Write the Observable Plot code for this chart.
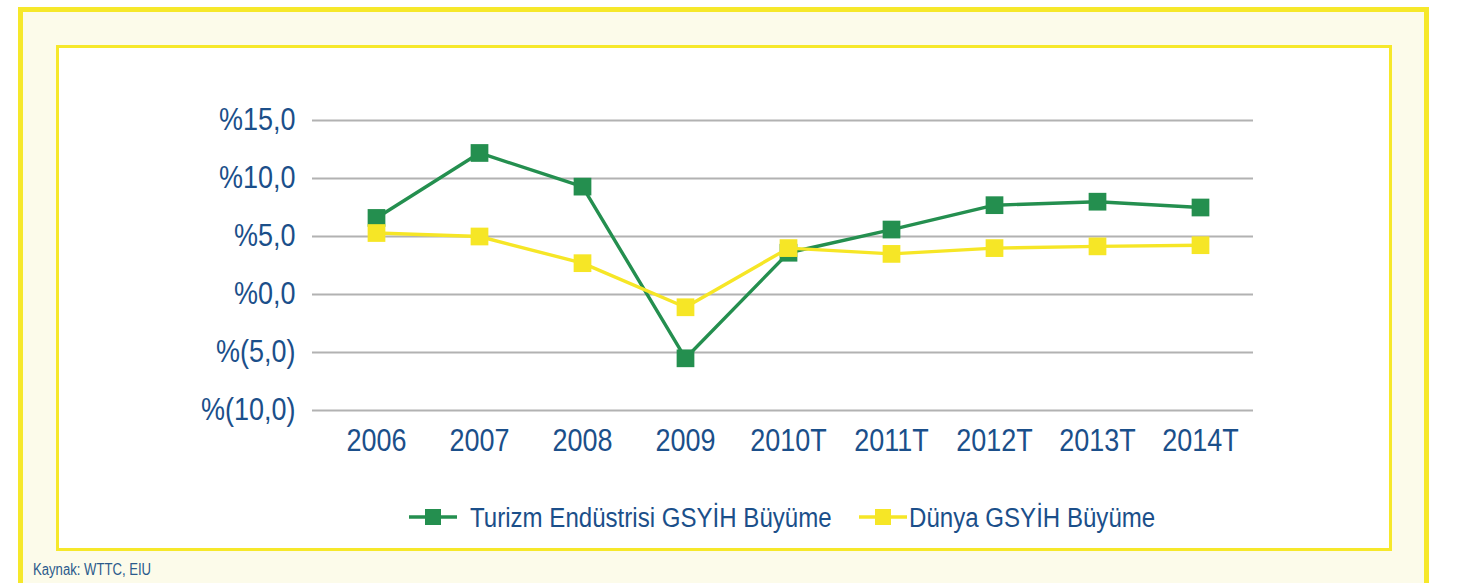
<!DOCTYPE html>
<html>
<head>
<meta charset="utf-8">
<script src="https://cdn.jsdelivr.net/npm/d3@7"></script>
<script src="https://cdn.jsdelivr.net/npm/@observablehq/plot@0.6"></script>
<style>
  html, body { margin: 0; padding: 0; width: 1465px; height: 583px; overflow: hidden; background: #ffffff; }
  .frame-outer { position: absolute; left: 18px; top: 7px; width: 1401px; height: 640px; background: #fcfbea; border: 5px solid #f6e82a; }
  .frame-inner { position: absolute; left: 56px; top: 45px; width: 1330px; height: 500px; background: #ffffff; border: 3px solid #f6e82a; }
  #chart { position: absolute; left: 0; top: 0; }
  .font { font-family: "Liberation Sans", Arial, sans-serif; color: #1b4f8a; }
  #legend { position: absolute; left: 0; top: 499px; width: 1465px; height: 36px; }
  #caption { position: absolute; left: 33px; top: 562px; font-size: 16px; line-height: 16px; color: #2b5a8c; transform: scaleX(0.82); transform-origin: 0 0; white-space: nowrap; }
</style>
</head>
<body>
<div class="frame-outer"></div>
<div class="frame-inner"></div>
<div id="chart" class="font"></div>
<div id="legend" class="font"></div>
<div id="caption" class="font">Kaynak: WTTC, EIU</div>
<script>
const years = ["2006", "2007", "2008", "2009", "2010T", "2011T", "2012T", "2013T", "2014T"];
const tourismGrowth = [6.6, 12.2, 9.3, -5.5, 3.6, 5.6, 7.7, 8.0, 7.5];
const worldGrowth = [5.3, 5.0, 2.7, -1.1, 4.0, 3.5, 4.0, 4.15, 4.25];
const seriesNames = ["Turizm Endüstrisi GSYİH Büyüme", "Dünya GSYİH Büyüme"];
const seriesColors = ["#248f4f", "#f6e626"];
const yTickValues = [-10, -5, 0, 5, 10, 15];
const yTickLabels = ["%(10,0)", "%(5,0)", "%0,0", "%5,0", "%10,0", "%15,0"];

const FONT = "'Liberation Sans', Arial, sans-serif";
const TEXT_COLOR = "#1b4f8a";
const tourism = years.map((y, i) => ({year: y, value: tourismGrowth[i]}));
const world = years.map((y, i) => ({year: y, value: worldGrowth[i]}));
const yLabel = new Map(yTickValues.map((v, i) => [v, yTickLabels[i]]));

const chart = Plot.plot({
  width: 1465,
  height: 470,
  marginLeft: 312,
  marginRight: 212,
  marginTop: 120,
  marginBottom: 60,
  style: {background: "transparent", fontFamily: FONT, color: TEXT_COLOR, overflow: "visible"},
  x: {type: "point", domain: years, range: [374, 1201], padding: 0},
  y: {domain: [-10, 15], ticks: yTickValues},
  marks: [
    Plot.ruleY(yTickValues, {stroke: "#b2b2b2", strokeWidth: 1.8}),
    Plot.axisY({ticks: yTickValues, tickSize: 0, tickPadding: 17, tickFormat: d => yLabel.get(d), fontSize: 31, fill: TEXT_COLOR, label: null}),
    Plot.axisX({tickSize: 0, tickPadding: 18, fontSize: 31, fill: TEXT_COLOR, label: null}),
    Plot.lineY(tourism, {x: "year", y: "value", stroke: seriesColors[0], strokeWidth: 3.4}),
    Plot.dot(tourism, {x: "year", y: "value", symbol: "square", r: 10, fill: seriesColors[0], stroke: "none"}),
    Plot.lineY(world, {x: "year", y: "value", stroke: seriesColors[1], strokeWidth: 3.4}),
    Plot.dot(world, {x: "year", y: "value", symbol: "square", r: 10, fill: seriesColors[1], stroke: "none"})
  ]
});
// condense the axis labels horizontally (reference uses a condensed face)
d3.select(chart).selectAll("g[aria-label$='tick label'] text").each(function () {
  const t = this.getAttribute("transform") || "";
  this.setAttribute("transform", t + " scale(0.87,1)");
});
document.getElementById("chart").appendChild(chart);

// legend
const legend = d3.select("#legend").append("svg").attr("width", 1465).attr("height", 36);
const legendItems = [
  {x: 409, textX: 470, text: seriesNames[0], color: seriesColors[0]},
  {x: 859, textX: 909, text: seriesNames[1], color: seriesColors[1]}
];
legendItems.forEach(it => {
  const g = legend.append("g").attr("transform", `translate(${it.x},18)`);
  g.append("line").attr("x1", 0).attr("x2", 48).attr("stroke", it.color).attr("stroke-width", 3.4);
  g.append("rect").attr("x", 16).attr("y", -8).attr("width", 16).attr("height", 16).attr("fill", it.color);
  legend.append("text").attr("transform", `translate(${it.textX},18) scale(0.86,1)`).attr("dy", "0.35em")
    .attr("font-size", 28).attr("fill", TEXT_COLOR).attr("font-family", FONT).text(it.text);
});
</script>
</body>
</html>
